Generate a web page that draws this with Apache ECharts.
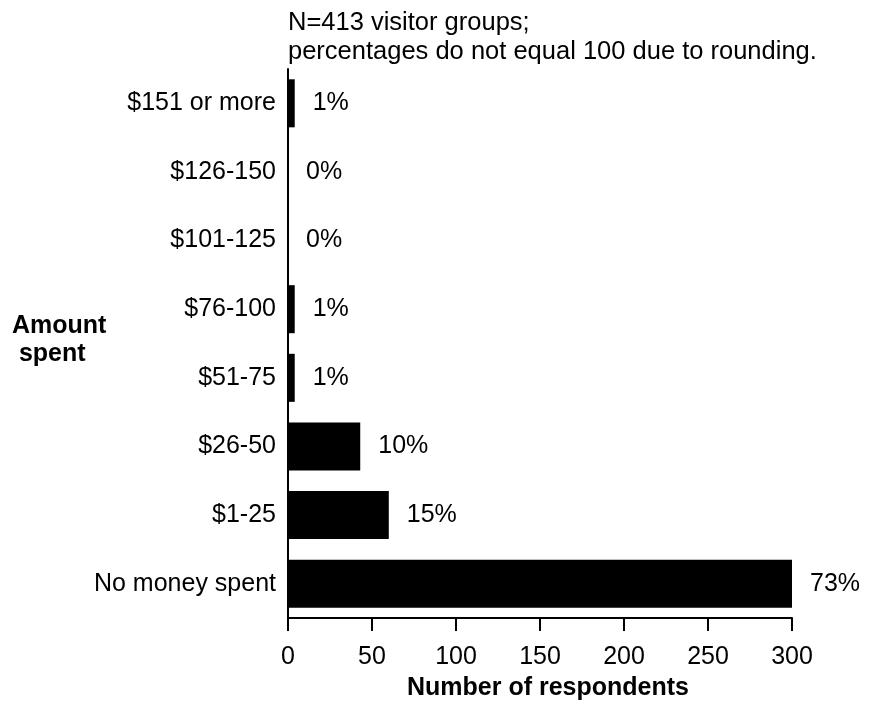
<!DOCTYPE html>
<html>
<head>
<meta charset="utf-8">
<script src="https://cdn.jsdelivr.net/npm/echarts@6/dist/echarts.min.js"></script>
<style>
html,body{margin:0;padding:0;background:#fff;}
#chart{width:869px;height:706px;}
</style>
</head>
<body>
<div id="chart"></div>
<script>
const categories = ['No money spent', '$1-25', '$26-50', '$51-75', '$76-100', '$101-125', '$126-150', '$151 or more'];
const respondents = [301, 60, 43, 4, 4, 0, 0, 4];
const percentLabels = ['73%', '15%', '10%', '1%', '1%', '0%', '0%', '1%'];
const xTicks = [0, 50, 100, 150, 200, 250, 300];
const subtitleLines = ['N=413 visitor groups;', 'percentages do not equal 100 due to rounding.'];

const FONT = "'Liberation Sans', Arial, sans-serif";
const chart = echarts.init(document.getElementById('chart'), null, {renderer: 'canvas'});
chart.setOption({
  backgroundColor: '#fff',
  animation: false,
  textStyle: {fontFamily: FONT, color: '#000'},
  title: {
    text: subtitleLines.join('\n'),
    left: 283, top: 3,
    textStyle: {fontFamily: FONT, fontSize: 25.5, fontWeight: 'normal', color: '#000', lineHeight: 29}
  },
  graphic: [{
    type: 'text',
    left: 12, top: 312,
    style: {text: 'Amount\n spent', font: "bold 25px 'Liberation Sans', Arial, sans-serif", fill: '#000', lineHeight: 28, textAlign: 'left'}
  }],
  grid: {left: 288, right: 77, top: 69, bottom: 86, containLabel: false},
  xAxis: {
    type: 'value',
    min: xTicks[0], max: xTicks[xTicks.length - 1], interval: xTicks[1] - xTicks[0],
    name: 'Number of respondents',
    nameLocation: 'middle',
    nameGap: 58,
    nameTextStyle: {fontFamily: FONT, fontSize: 25, fontWeight: 'bold', color: '#000', padding: [0, 0, 0, 16]},
    axisLine: {show: true, lineStyle: {color: '#000', width: 2}},
    axisTick: {show: true, length: 13, lineStyle: {color: '#000', width: 2}},
    axisLabel: {fontFamily: FONT, fontSize: 25, color: '#000', margin: 27},
    splitLine: {show: false}
  },
  yAxis: {
    type: 'category',
    data: categories,
    axisLine: {show: true, lineStyle: {color: '#000', width: 2}},
    axisTick: {show: false},
    axisLabel: {fontFamily: FONT, fontSize: 25, color: '#000', margin: 12},
    splitLine: {show: false}
  },
  series: [{
    type: 'bar',
    data: respondents,
    barCategoryGap: '30%',
    itemStyle: {color: '#000'},
    label: {
      show: true, position: 'right', distance: 18,
      fontFamily: FONT, fontSize: 25, color: '#000',
      formatter: p => percentLabels[p.dataIndex]
    }
  }]
});
</script>
</body>
</html>
